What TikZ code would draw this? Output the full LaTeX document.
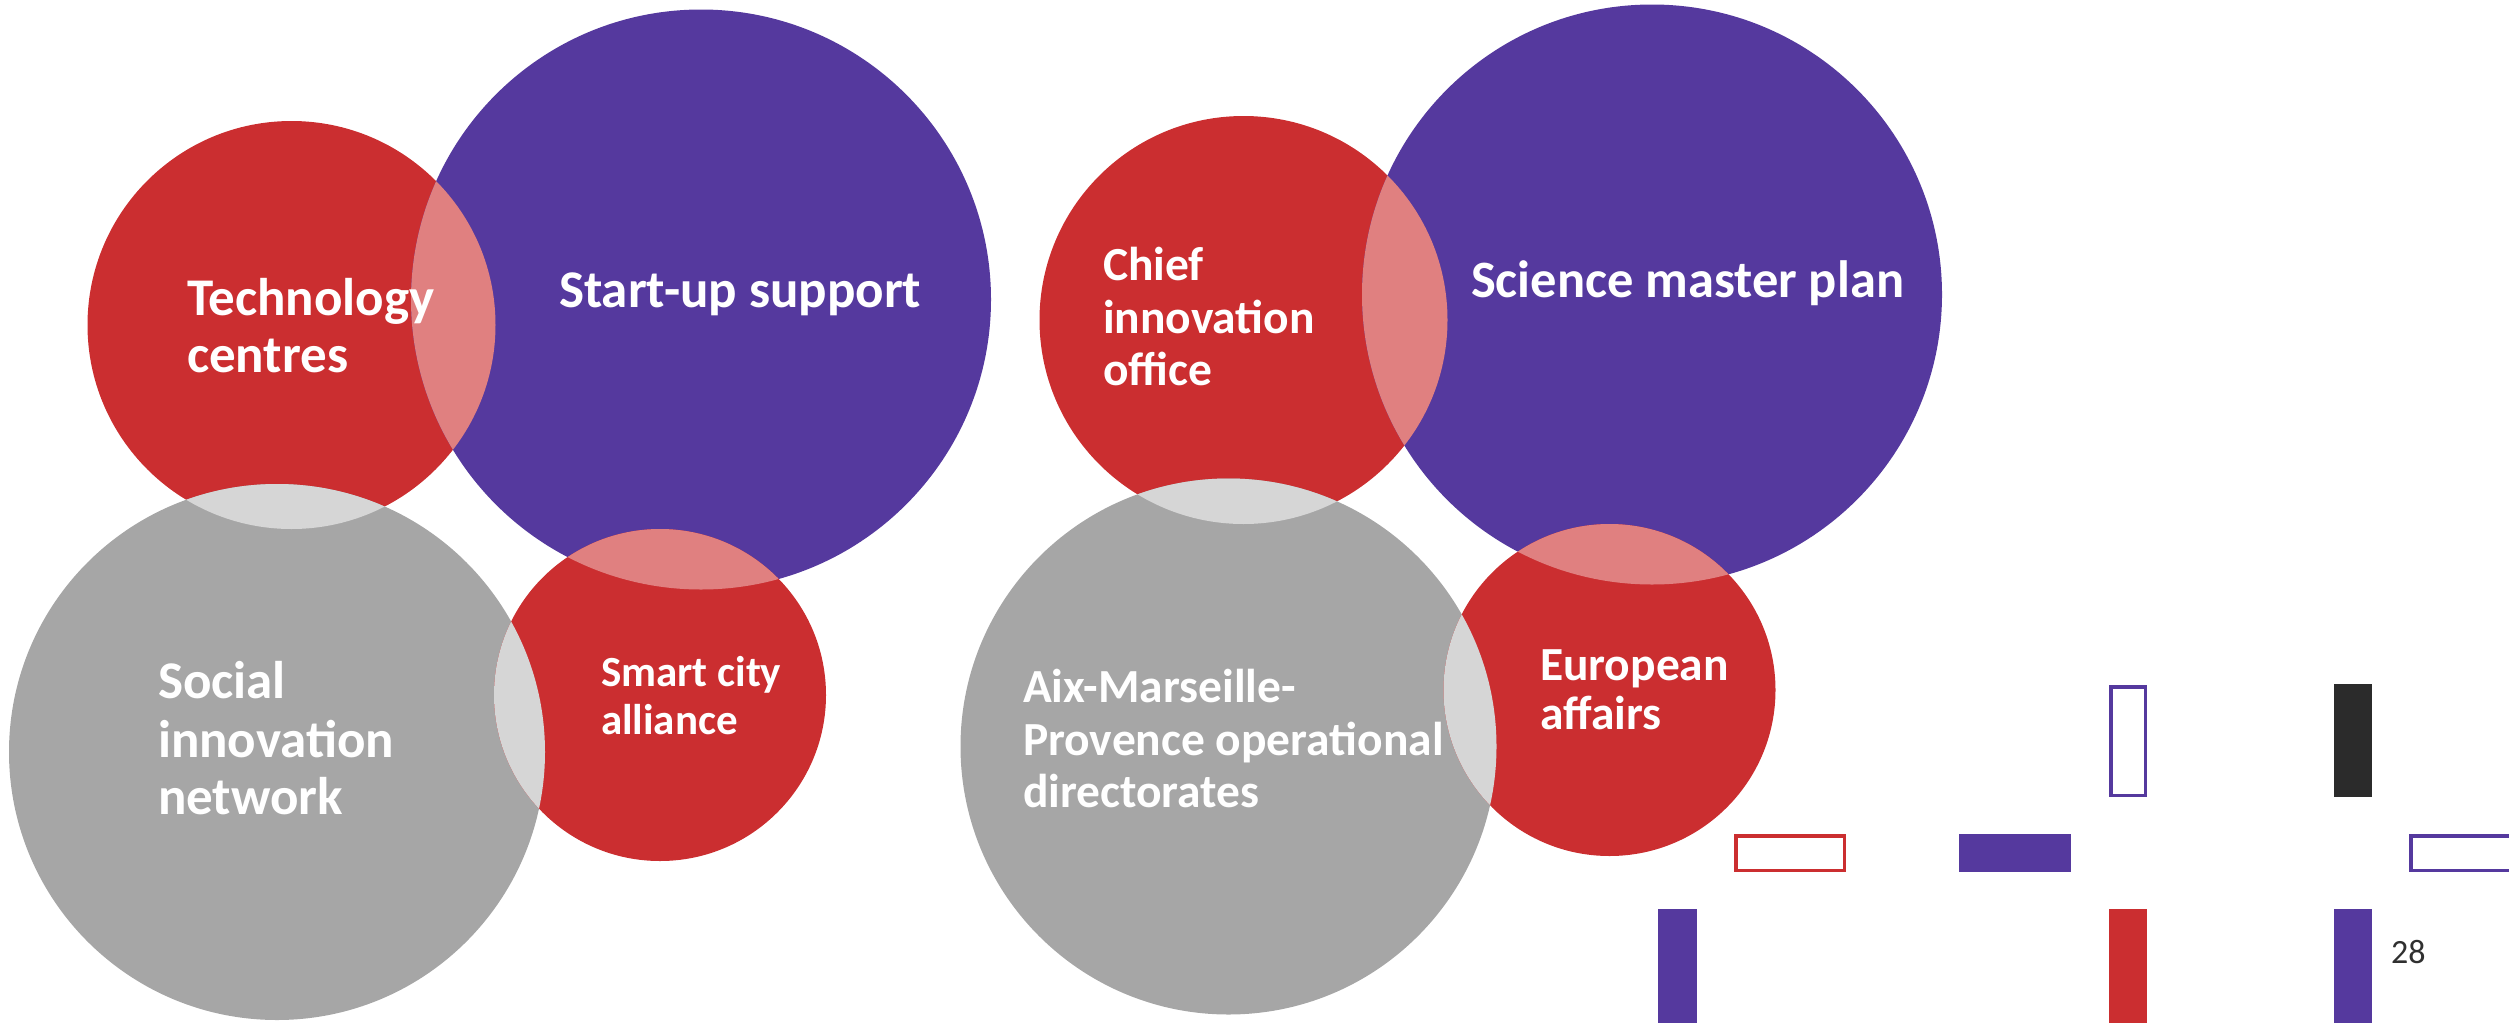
\documentclass[tikz,border=0pt]{standalone}
\usepackage{fontspec}
\setmainfont{Carlito}
\definecolor{redc}{RGB}{203,46,48}
\definecolor{purc}{RGB}{85,57,158}
\definecolor{grayc}{RGB}{166,166,166}
\definecolor{pinkc}{RGB}{224,128,128}
\definecolor{lgrayc}{RGB}{214,214,214}
\definecolor{darkc}{RGB}{43,43,43}
\definecolor{numc}{RGB}{48,48,48}
\tikzset{
  circ/.style={circle,draw=none,inner sep=0pt,outer sep=0pt,minimum size=#1},
  lbl/.style={text=white,inner sep=0pt,outer sep=0pt,anchor=base west,font=\bfseries},
  outl/.style={line width=3.5pt},
}
\newcommand{\fsz}[2]{\fontsize{#1}{#2}\selectfont\bfseries}
\begin{document}
\begin{tikzpicture}[x=1pt,y=-1pt]
\useasboundingbox (0,0) rectangle (2509,1023);
% ---------- left group ----------
\node[circ=408pt,fill=redc] (A) at (291.5,325) {};
\node[circ=580pt,fill=purc] (B) at (701,299.5) {};
\node[circ=536pt,fill=grayc] (C) at (277,752) {};
\node[circ=332pt,fill=redc] (D) at (660,695) {};
\begin{scope}
  \clip (A.center) circle[radius=204pt];
  \fill[pinkc] (B.center) circle[radius=290pt];
  \fill[lgrayc] (C.center) circle[radius=268pt];
\end{scope}
\begin{scope}
  \clip (D.center) circle[radius=166pt];
  \fill[pinkc] (B.center) circle[radius=290pt];
  \fill[lgrayc] (C.center) circle[radius=268pt];
\end{scope}
% ---------- right group ----------
\node[circ=408pt,fill=redc] (E) at (1243.5,320) {};
\node[circ=580pt,fill=purc] (F) at (1652,294.5) {};
\node[circ=536pt,fill=grayc] (G) at (1228.5,746.5) {};
\node[circ=332pt,fill=redc] (H) at (1609.5,690) {};
\begin{scope}
  \clip (E.center) circle[radius=204pt];
  \fill[pinkc] (F.center) circle[radius=290pt];
  \fill[lgrayc] (G.center) circle[radius=268pt];
\end{scope}
\begin{scope}
  \clip (H.center) circle[radius=166pt];
  \fill[pinkc] (F.center) circle[radius=290pt];
  \fill[lgrayc] (G.center) circle[radius=268pt];
\end{scope}
% ---------- labels ----------
\node[lbl,font=\fsz{53}{57}] (tA1) at (187,315) {Technology};
\node[lbl,font=\fsz{53}{57}] (tA2) at (187,372) {centres};
\node[lbl,font=\fsz{53}{57}] (tB1) at (559,307) {Start-up support};
\node[lbl,font=\fsz{53}{57}] (tC1) at (158,698) {Social};
\node[lbl,font=\fsz{53}{57}] (tC2) at (158,757) {innovation};
\node[lbl,font=\fsz{53}{57}] (tC3) at (158,814) {network};
\node[lbl,font=\fsz{43}{48}] (tD1) at (601,686) {Smart city};
\node[lbl,font=\fsz{43}{48}] (tD2) at (601,734) {alliance};
\node[lbl,font=\fsz{47.5}{52}] (tE1) at (1103,280) {Chief};
\node[lbl,font=\fsz{47.5}{52}] (tE2) at (1103,333) {innovation};
\node[lbl,font=\fsz{47.5}{52}] (tE3) at (1103,385) {office};
\node[lbl,font=\fsz{52.5}{57}] (tF1) at (1471,297) {Science master plan};
\node[lbl,font=\fsz{47.5}{52}] (tG1) at (1023,702) {Aix-Marseille-};
\node[lbl,font=\fsz{47.5}{52}] (tG2) at (1023,755) {Provence operational};
\node[lbl,font=\fsz{47.5}{52}] (tG3) at (1023,807) {directorates};
\node[lbl,font=\fsz{47.5}{52}] (tH1) at (1540,680) {European};
\node[lbl,font=\fsz{47.5}{52}] (tH2) at (1540,729) {affairs};
% ---------- decorative bars ----------
\draw[outl,purc] (2110.75,686.75) rectangle (2145.25,795.25);
\fill[darkc] (2334,684) rectangle (2372,797);
\draw[outl,redc] (1735.75,835.75) rectangle (1844.25,870.25);
\fill[purc] (1959,834) rectangle (2071,872);
\draw[outl,purc] (2410.75,835.75) rectangle (2519.25,870.25);
\fill[purc] (1658,909) rectangle (1697,1023);
\fill[redc] (2109,909) rectangle (2147,1023);
\fill[purc] (2334,909) rectangle (2372,1023);
\node[inner sep=0pt,anchor=base west,text=numc,font=\fontsize{34}{40}\selectfont] (pg) at (2391,963) {28};
\end{tikzpicture}
\end{document}
